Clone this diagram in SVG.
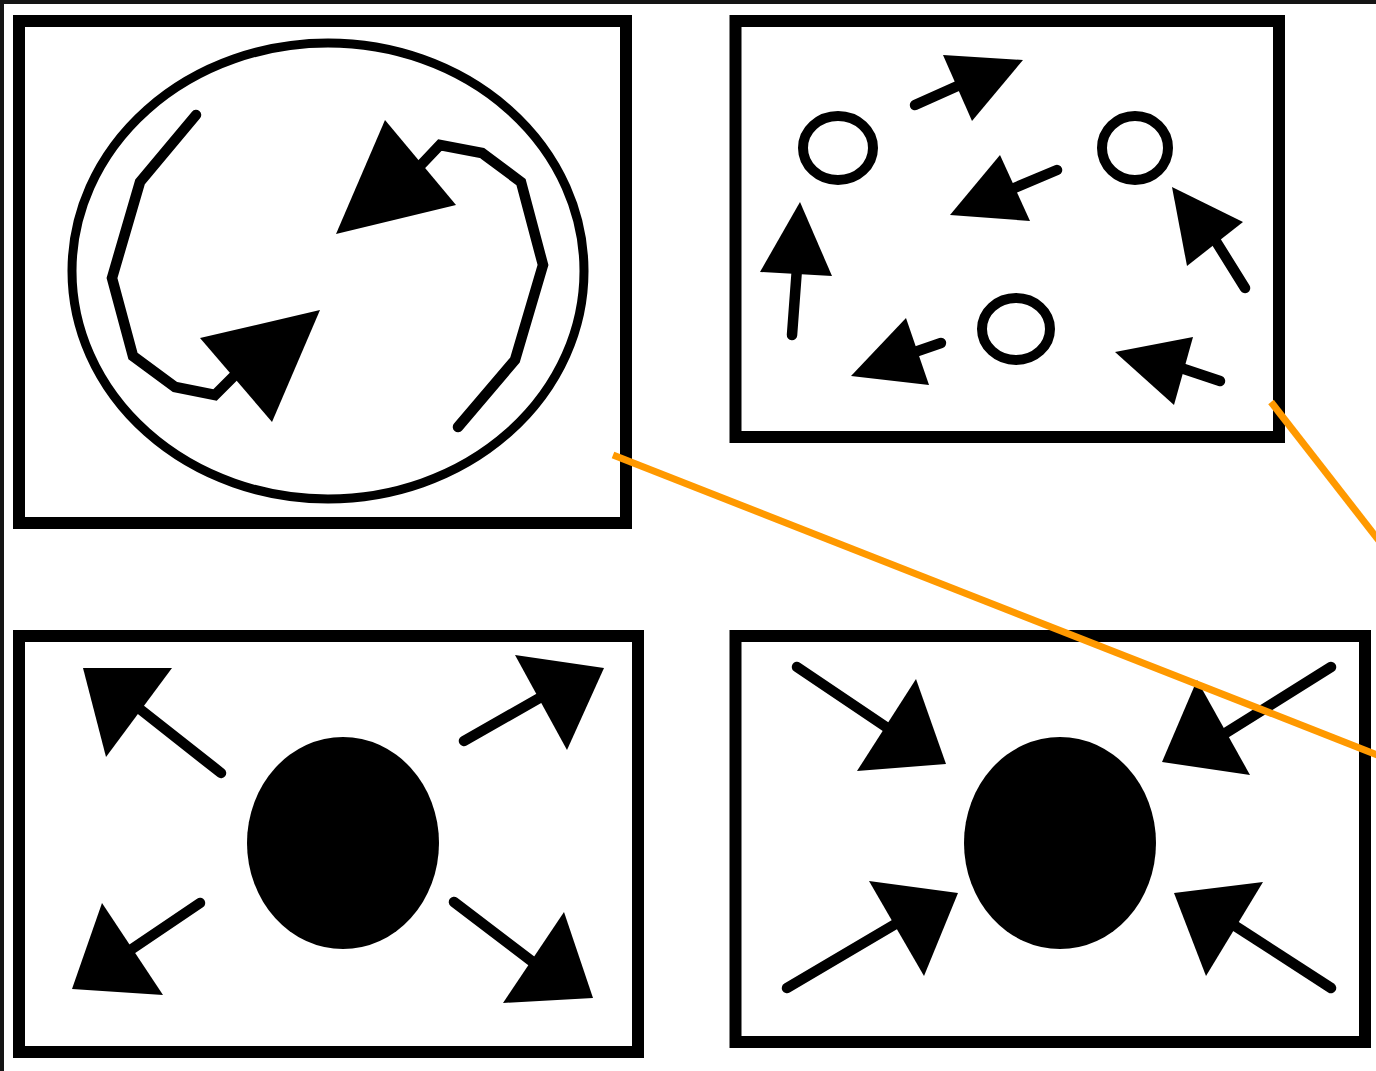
<svg xmlns="http://www.w3.org/2000/svg" width="1376" height="1071" viewBox="0 0 1376 1071">
  <style>
    .frame { fill: none; stroke: #000; stroke-width: 12; }
    .ln { fill: none; stroke: #000; stroke-width: 10.5; stroke-linecap: round; stroke-linejoin: miter; }
    .head { fill: #000; stroke: none; }
    .ring { fill: none; stroke: #000; stroke-width: 9; }
    .dot { fill: none; stroke: #000; stroke-width: 10; }
    .conn { fill: none; stroke: #FF9900; stroke-width: 7; }
  </style>
  <rect x="0" y="0" width="1376" height="1071" fill="#fff"/>
  <g id="outer-frame">
    <path d="M2 1071 V2 H1376" fill="none" stroke="#151515" stroke-width="4"/>
  </g>

  <g id="panel-rotation">
    <rect class="frame" x="19" y="21" width="607" height="502"/>
    <ellipse class="ring" cx="328" cy="271" rx="256" ry="228"/>
    <polyline class="ln" points="196,115 140,182 112,278 133,356 175,387 215,395 236,374"/>
    <polygon class="head" points="200,338 320,310 272,422"/>
    <polyline class="ln" points="458,427 515,360 543,265 521,182 482,153 440,145 420,166"/>
    <polygon class="head" points="385,120 456,205 336,234"/>
  </g>

  <g id="panel-scattered">
    <rect class="frame" x="735.5" y="21" width="543.5" height="416"/>
    <ellipse class="dot" cx="838" cy="148" rx="35" ry="32"/>
    <ellipse class="dot" cx="1135" cy="148" rx="33" ry="32"/>
    <ellipse class="dot" cx="1016" cy="329" rx="34" ry="31"/>
    <line class="ln" x1="915" y1="105" x2="962" y2="84"/>
    <polygon class="head" points="943,55 1023,60 972,121"/>
    <line class="ln" x1="1057" y1="170" x2="1012" y2="189"/>
    <polygon class="head" points="1000,155 1030,221 950,215"/>
    <line class="ln" x1="792" y1="335" x2="797" y2="268"/>
    <polygon class="head" points="800,202 832,276 760,272"/>
    <line class="ln" x1="1245" y1="288" x2="1212" y2="235"/>
    <polygon class="head" points="1172,187 1243,222 1187,266"/>
    <line class="ln" x1="1220" y1="381" x2="1178" y2="367"/>
    <polygon class="head" points="1193,337 1115,352 1174,405"/>
    <line class="ln" x1="941" y1="343" x2="912" y2="353"/>
    <polygon class="head" points="906,318 929,385 851,376"/>
  </g>

  <g id="panel-expansion">
    <rect class="frame" x="19" y="636" width="619" height="416"/>
    <ellipse class="head" cx="343" cy="843" rx="96" ry="106"/>
    <line class="ln" x1="221" y1="773" x2="136" y2="706"/>
    <polygon class="head" points="83,668 172,668 106,757"/>
    <line class="ln" x1="464" y1="741" x2="550" y2="692"/>
    <polygon class="head" points="515,655 604,668 567,750"/>
    <line class="ln" x1="200" y1="903" x2="126" y2="953"/>
    <polygon class="head" points="102,903 163,995 72,989"/>
    <line class="ln" x1="454" y1="902" x2="542" y2="969"/>
    <polygon class="head" points="564,912 593,998 503,1003"/>
  </g>

  <g id="panel-contraction">
    <rect class="frame" x="735.5" y="636" width="629.5" height="406"/>
    <ellipse class="head" cx="1060" cy="843" rx="96" ry="106"/>
    <line class="ln" x1="797" y1="667" x2="892" y2="731"/>
    <polygon class="head" points="916,679 946,764 857,771"/>
    <line class="ln" x1="1331" y1="667" x2="1216" y2="739"/>
    <polygon class="head" points="1197,680 1250,775 1162,762"/>
    <line class="ln" x1="787" y1="988" x2="904" y2="919"/>
    <polygon class="head" points="869,881 958,893 924,976"/>
    <line class="ln" x1="1331" y1="988" x2="1229" y2="922"/>
    <polygon class="head" points="1263,882 1206,976 1174,893"/>
  </g>

  <g id="connectors">
    <line class="conn" x1="613" y1="455" x2="1380" y2="756"/>
    <line class="conn" x1="1271" y1="402" x2="1380" y2="542"/>
  </g>
</svg>
